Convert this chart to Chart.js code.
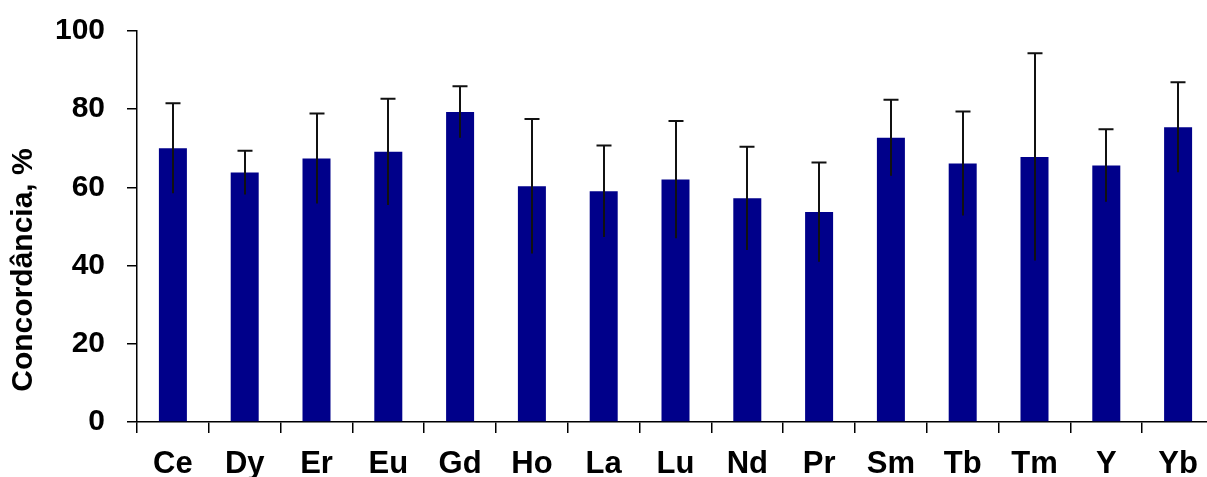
<!DOCTYPE html>
<html>
<head>
<meta charset="utf-8">
<script src="https://cdn.jsdelivr.net/npm/chart.js@4/dist/chart.umd.min.js"></script>
<style>
  html, body { margin: 0; padding: 0; background: #fff; overflow: hidden; }
  #wrap { width: 1230px; height: 477px; }
</style>
</head>
<body>
<div id="wrap"><canvas id="c" width="1230" height="477"></canvas></div>
<script>
const categories = ["Ce","Dy","Er","Eu","Gd","Ho","La","Lu","Nd","Pr","Sm","Tb","Tm","Y","Yb"];
const concordance = [70, 63.8, 67.4, 69.1, 79.3, 60.3, 59, 62, 57.2, 53.7, 72.7, 66.1, 67.8, 65.6, 75.4];
const errors = [11.5, 5.6, 11.5, 13.6, 6.6, 17.2, 11.7, 15, 13.2, 12.7, 9.7, 13.3, 26.5, 9.3, 11.5];
const yTicks = [0, 20, 40, 60, 80, 100];
const yTitle = "Concordância, %";

const FONT = "'Liberation Sans', Arial, sans-serif";

const errorBars = {
  id: 'errorBars',
  afterDatasetsDraw(chart) {
    const meta = chart.getDatasetMeta(0);
    const ys = chart.scales.y;
    const ctx = chart.ctx;
    ctx.save();
    ctx.strokeStyle = '#111';
    ctx.lineWidth = 2;
    meta.data.forEach((bar, i) => {
      const x = Math.round(bar.x);
      const top = ys.getPixelForValue(concordance[i] + errors[i]);
      const bot = ys.getPixelForValue(concordance[i] - errors[i]);
      ctx.beginPath();
      ctx.moveTo(x, bot);
      ctx.lineTo(x, top);
      ctx.moveTo(x - 7.5, top);
      ctx.lineTo(x + 7.5, top);
      ctx.stroke();
    });
    ctx.restore();
  }
};

const yTitlePlugin = {
  id: 'yTitle',
  afterDraw(chart) {
    const ctx = chart.ctx;
    const ys = chart.scales.y;
    ctx.save();
    ctx.translate(24, 270);
    ctx.rotate(-Math.PI / 2);
    ctx.font = "bold 30px " + FONT;
    ctx.fillStyle = '#000';
    ctx.textAlign = 'center';
    ctx.textBaseline = 'middle';
    ctx.fillText(yTitle, 0, 0);
    ctx.restore();
  }
};

new Chart(document.getElementById('c'), {
  type: 'bar',
  data: {
    labels: categories,
    datasets: [{
      data: concordance,
      backgroundColor: '#00008a',
      borderWidth: 0,
      barPercentage: 0.39,
      categoryPercentage: 1.0
    }]
  },
  options: {
    responsive: false,
    animation: false,
    devicePixelRatio: 1,
    layout: { padding: { left: 0, top: 31, right: 16, bottom: 0 } },
    plugins: { legend: { display: false }, tooltip: { enabled: false } },
    scales: {
      x: {
        afterFit(scale) { scale.height = 55; scale.paddingLeft = 0; scale.paddingRight = 0; },
        grid: { display: true, drawOnChartArea: false, drawTicks: true, tickLength: 11, color: '#000', lineWidth: 1.5, offset: true },
        border: { display: true, color: '#000', width: 1.5 },
        ticks: { color: '#000', padding: 13, font: { family: FONT, size: 31, weight: 'bold' }, maxRotation: 0, autoSkip: false }
      },
      y: {
        min: 0, max: 100,
        afterFit(scale) { scale.width = 137; scale.paddingTop = 0; scale.paddingBottom = 0; },
        afterBuildTicks(scale) { scale.ticks = yTicks.map(v => ({ value: v })); },
        grid: { display: true, drawOnChartArea: false, drawTicks: true, tickLength: 10, color: '#000', lineWidth: 1.5 },
        border: { display: true, color: '#000', width: 1.5 },
        ticks: { color: '#000', padding: 22, font: { family: FONT, size: 30, weight: 'bold' } },
        title: { display: false }
      }
    }
  },
  plugins: [errorBars, yTitlePlugin]
});
</script>
</body>
</html>
